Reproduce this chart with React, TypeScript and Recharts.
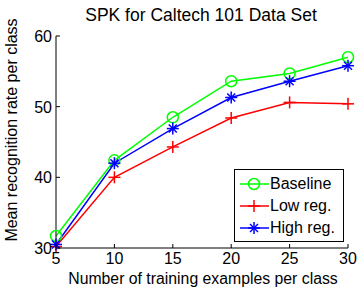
import { LineChart, Line, XAxis, YAxis } from 'recharts';

const trainSizes = [5, 10, 15, 20, 25, 30];
const baseline = [31.7, 42.4, 48.5, 53.6, 54.7, 57.0];
const lowReg = [30.2, 40.0, 44.3, 48.4, 50.6, 50.4];
const highReg = [30.5, 42.0, 46.9, 51.3, 53.6, 55.8];

const xTicks = [5, 10, 15, 20, 25, 30];
const yTicks = [30, 40, 50, 60];

const chartData = trainSizes.map((n, i) => ({
    n,
    baseline: baseline[i],
    lowReg: lowReg[i],
    highReg: highReg[i],
}));

const FONT = '"Liberation Sans", Arial, sans-serif';

const series = [
    { key: 'baseline', name: 'Baseline', color: '#00ff00', marker: 'circle' },
    { key: 'lowReg', name: 'Low reg.', color: '#ff0000', marker: 'plus' },
    { key: 'highReg', name: 'High reg.', color: '#0000ff', marker: 'star' },
];

function Marker({ cx, cy, kind, color }: { cx: number; cy: number; kind: string; color: string }) {
    if (kind === 'circle') {
        return <circle cx={cx} cy={cy} r={5.5} fill="none" stroke={color} strokeWidth={1.5} />;
    }
    if (kind === 'plus') {
        return (
            <g stroke={color} strokeWidth={1.5}>
                <line x1={cx - 6} y1={cy} x2={cx + 6} y2={cy} />
                <line x1={cx} y1={cy - 6} x2={cx} y2={cy + 6} />
            </g>
        );
    }
    const d = 4;
    return (
        <g stroke={color} strokeWidth={1.5}>
            <line x1={cx - 6} y1={cy} x2={cx + 6} y2={cy} />
            <line x1={cx} y1={cy - 6} x2={cx} y2={cy + 6} />
            <line x1={cx - d} y1={cy - d} x2={cx + d} y2={cy + d} />
            <line x1={cx - d} y1={cy + d} x2={cx + d} y2={cy - d} />
        </g>
    );
}

const makeDot = (kind: string, color: string) => (props: any) => (
    <Marker key={`${kind}-${props.index}`} cx={props.cx} cy={props.cy} kind={kind} color={color} />
);

const YTick = (props: any) => {
    const { x, y, payload } = props;
    return (
        <g>
            <line x1={x + 4} y1={y} x2={x + 8} y2={y} stroke="#000" strokeWidth={1} />
            <text x={x} y={y} dy={6} textAnchor="end" fontSize={16} fontFamily={FONT} fill="#000">
                {payload.value}
            </text>
        </g>
    );
};

const XTick = (props: any) => {
    const { x, y, payload } = props;
    return (
        <g>
            <line x1={x} y1={y - 4} x2={x} y2={y - 8} stroke="#000" strokeWidth={1} />
            <text x={x} y={y} dy={12} textAnchor="middle" fontSize={16} fontFamily={FONT} fill="#000">
                {payload.value}
            </text>
        </g>
    );
};

const LegendBox = () => (
    <div
        style={{
            position: 'absolute',
            left: 234,
            top: 169,
            border: '1px solid #000',
            background: '#fff',
            width: 108,
            height: 71,
            fontFamily: FONT,
            fontSize: 16,
        }}
    >
        {series.map((s, i) => (
            <div key={s.key} style={{ display: 'flex', alignItems: 'center', height: 22, marginTop: i === 0 ? 3 : 0 }}>
                <svg width={34} height={16} style={{ marginLeft: 1 }}>
                    <line x1={4} y1={8} x2={33} y2={8} stroke={s.color} strokeWidth={1.5} />
                    <Marker cx={18} cy={8} kind={s.marker} color={s.color} />
                </svg>
                <span style={{ color: '#000', lineHeight: '16px' }}>{s.name}</span>
            </div>
        ))}
    </div>
);

export default function App() {
    return (
        <div style={{ position: 'absolute', left: 0, top: 0, width: 359, height: 289, background: '#fff' }}>
            <LineChart width={359} height={289} data={chartData} margin={{ top: 36, right: 11, left: 0, bottom: 0 }}>
                <text x={201} y={21} textAnchor="middle" fontSize={17.5} fontFamily={FONT} fill="#000">
                    SPK for Caltech 101 Data Set
                </text>
                <text
                    x={17}
                    y={130}
                    textAnchor="middle"
                    fontSize={16}
                    fontFamily={FONT}
                    fill="#000"
                    transform="rotate(-90 17 130)"
                >
                    Mean recognition rate per class
                </text>
                <text x={203} y={284} textAnchor="middle" fontSize={15.8} fontFamily={FONT} fill="#000">
                    Number of training examples per class
                </text>
                <XAxis
                    dataKey="n"
                    type="number"
                    domain={[5, 30]}
                    ticks={xTicks}
                    height={41}
                    tickLine={false}
                    tickSize={0}
                    tickMargin={4}
                    tick={<XTick />}
                    axisLine={{ stroke: '#000' }}
                    interval={0}
                />
                <YAxis
                    type="number"
                    domain={[30, 60]}
                    ticks={yTicks}
                    width={56}
                    tickLine={false}
                    tickSize={0}
                    tickMargin={4}
                    tick={<YTick />}
                    axisLine={{ stroke: '#000' }}
                    interval={0}
                />
                {series.map((s) => (
                    <Line
                        key={s.key}
                        dataKey={s.key}
                        name={s.name}
                        stroke={s.color}
                        strokeWidth={1.5}
                        dot={makeDot(s.marker, s.color)}
                        activeDot={false}
                        isAnimationActive={false}
                    />
                ))}
            </LineChart>
            <LegendBox />
        </div>
    );
}
